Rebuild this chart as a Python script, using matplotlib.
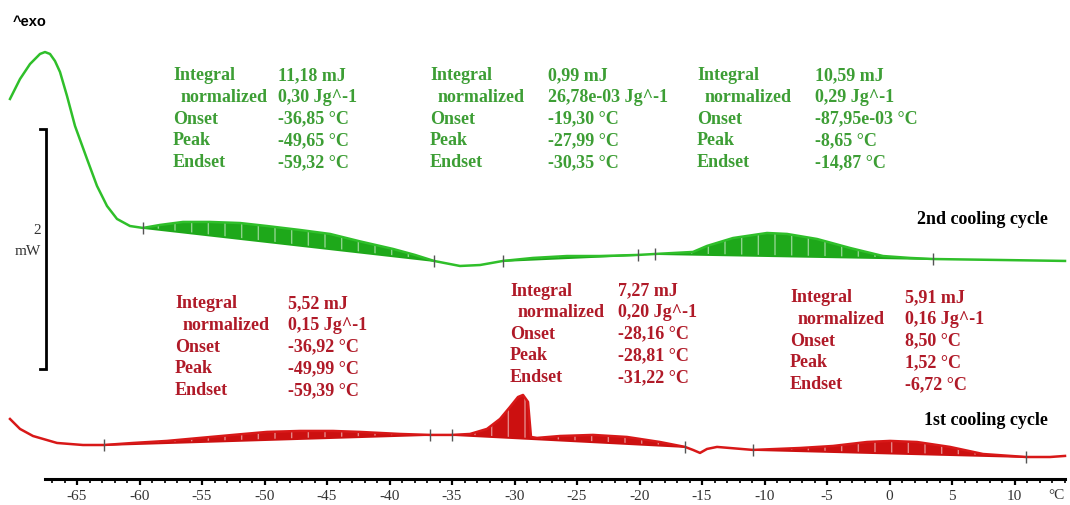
import numpy as np
from matplotlib import pyplot as plt

# 2nd cooling cycle (green), temperature in degC, heat flow in mW (arbitrary offset)
t_green = [-70.36, -69.56, -68.76, -67.96, -67.56, -67.16, -66.76, -66.36, -65.80, -65.16,
           -64.20, -63.40, -62.60, -61.80, -60.76, -59.72, -58.36, -56.52, -54.36, -51.96,
           -49.80, -47.16, -44.76, -42.36, -39.72, -37.96, -36.44, -34.36, -32.76, -30.92,
           -28.52, -25.80, -23.16, -20.12, -18.76, -15.72, -14.60, -12.52, -9.80, -8.20,
           -5.80, -3.16, -0.52, 1.64, 3.48, 8.84, 14.04]
hf_green = [3.167, 3.333, 3.458, 3.542, 3.558, 3.542, 3.483, 3.392, 3.192, 2.942,
            2.667, 2.442, 2.275, 2.167, 2.108, 2.092, 2.117, 2.142, 2.142, 2.133,
            2.108, 2.075, 2.042, 1.980, 1.917, 1.867, 1.817, 1.775, 1.783, 1.817,
            1.842, 1.858, 1.858, 1.867, 1.875, 1.892, 1.942, 2.008, 2.050, 2.042,
            2.000, 1.925, 1.858, 1.842, 1.833, 1.825, 1.817]

# 1st cooling cycle (red)
t_red = [-70.36, -69.56, -68.52, -66.60, -64.52, -62.84, -60.52, -57.80, -55.16, -52.52,
         -49.80, -47.16, -44.52, -42.36, -39.16, -36.76, -35.00, -33.56, -32.20, -31.16,
         -30.36, -29.72, -29.32, -28.92, -28.68, -28.20, -26.36, -23.72, -21.00, -18.36,
         -16.36, -15.72, -15.16, -14.60, -13.80, -10.92, -7.16, -4.52, -1.80, 0.04,
         2.20, 4.84, 7.48, 10.92, 12.84, 14.04]
hf_red = [0.500, 0.417, 0.358, 0.300, 0.283, 0.283, 0.300, 0.317, 0.342, 0.367,
          0.392, 0.400, 0.400, 0.392, 0.375, 0.367, 0.367, 0.375, 0.417, 0.500,
          0.600, 0.683, 0.700, 0.642, 0.350, 0.342, 0.358, 0.367, 0.350, 0.308,
          0.267, 0.242, 0.217, 0.250, 0.267, 0.242, 0.258, 0.275, 0.308, 0.317,
          0.308, 0.267, 0.208, 0.183, 0.183, 0.192]

# integration limits (degC)
limits_green = [(-59.72, -36.44), (-30.92, -20.12), (-18.76, 3.48)]
limits_red = [(-62.84, -36.76), (-35.00, -16.36), (-10.92, 10.92)]

row_labels = ["Integral", "normalized", "Onset", "Peak", "Endset"]
vals_green = [["11,18 mJ", "0,30 Jg^-1", "-36,85 °C", "-49,65 °C", "-59,32 °C"],
              ["0,99 mJ", "26,78e-03 Jg^-1", "-19,30 °C", "-27,99 °C", "-30,35 °C"],
              ["10,59 mJ", "0,29 Jg^-1", "-87,95e-03 °C", "-8,65 °C", "-14,87 °C"]]
vals_red = [["5,52 mJ", "0,15 Jg^-1", "-36,92 °C", "-49,99 °C", "-59,39 °C"],
            ["7,27 mJ", "0,20 Jg^-1", "-28,16 °C", "-28,81 °C", "-31,22 °C"],
            ["5,91 mJ", "0,16 Jg^-1", "8,50 °C", "1,52 °C", "-6,72 °C"]]

major_ticks = list(range(-65, 11, 5))
tick_labels = [str(t) for t in major_ticks]

W, H = 1070, 506
fig = plt.figure(figsize=(W / 100, H / 100), dpi=100)
ax = fig.add_axes([0, 0, 1, 1])
ax.set_xlim(-71.16, 14.44)
ax.set_ylim(-0.217, 4.0)

GREEN_LINE = '#2fbf2a'
GREEN_FILL = '#1ea81a'
GREEN_TEXT = '#3d9e35'
RED_LINE = '#d81818'
RED_FILL = '#cc1010'
RED_TEXT = '#b01a28'

plt.rcParams['hatch.linewidth'] = 1.0


def draw_curve(t, hf, limits, lc, fc):
    t = np.array(t)
    hf = np.array(hf)
    ax.plot(t, hf, color=lc, lw=1.8, zorder=3)
    for a, b in limits:
        ya = np.interp(a, t, hf)
        yb = np.interp(b, t, hf)
        inside = (t > a) & (t < b)
        xs = np.concatenate([[a], t[inside], [b]])
        ys = np.concatenate([[ya], hf[inside], [yb]])
        base = ya + (yb - ya) * (xs - a) / (b - a)
        ax.fill_between(xs, ys, base, facecolor=fc, edgecolor=(1, 1, 1, 0.5),
                        hatch='|', lw=0, zorder=2)
        ax.plot([a, b], [ya, yb], color=fc, lw=1.4, zorder=2)
        ax.plot([a, b], [ya, yb], ls='none', marker='|', ms=9, mew=1.0,
                color='#555555', zorder=4)


draw_curve(t_green, hf_green, limits_green, GREEN_LINE, GREEN_FILL)
draw_curve(t_red, hf_red, limits_red, RED_LINE, RED_FILL)

# temperature axis
for s in ['top', 'left', 'right']:
    ax.spines[s].set_visible(False)
ax.spines['bottom'].set_position(('data', 0.0))
ax.spines['bottom'].set_bounds(-67.6, 14.0)
ax.spines['bottom'].set_linewidth(2.2)
ax.set_xticks(major_ticks)
ax.set_xticklabels(tick_labels)
ax.set_xticks(np.arange(-67, 15, 1), minor=True)
ax.tick_params(axis='x', which='major', direction='out', length=4.5, width=1.6,
               pad=2.5, labelsize=11, labelcolor='#333333')
ax.tick_params(axis='x', which='minor', direction='out', length=3, width=1.2)
for lab in ax.get_xticklabels():
    lab.set_family('Liberation Serif')
ax.set_yticks([])


def px(x, y):
    return x / W, 1 - y / H


fig.text(*px(1056, 496), "°C", ha='center', va='center', fontsize=11,
         family='Liberation Serif', color='#333333')


# integral tables
def table(x_lab, x_val, y0, vals, color):
    for i, (lab, v) in enumerate(zip(row_labels, vals)):
        y = y0 + i * 21.6
        dx = 8 if i == 1 else 0
        fig.text(*px(x_lab + dx, y), lab, color=color, fontsize=13, fontweight='bold',
                 family='Liberation Serif', va='center', ha='left')
        fig.text(*px(x_val, y), v, color=color, fontsize=13, fontweight='bold',
                 family='Liberation Serif', va='center', ha='left')


for (xl, xv, y0), v in zip([(173, 278, 76), (430, 548, 76), (697, 815, 76)], vals_green):
    table(xl, xv, y0, v, GREEN_TEXT)
for (xl, xv, y0), v in zip([(175, 288, 304), (510, 618, 291), (790, 905, 298)], vals_red):
    table(xl, xv, y0, v, RED_TEXT)

fig.text(*px(1048, 220), "2nd cooling cycle", fontsize=13, fontweight='bold',
         family='Liberation Serif', ha='right', va='center', color='black')
fig.text(*px(1048, 421), "1st cooling cycle", fontsize=13, fontweight='bold',
         family='Liberation Serif', ha='right', va='center', color='black')

# exo marker and scale bar
fig.text(*px(13, 22), "^exo", fontsize=10.5, fontweight='bold', family='Liberation Sans',
         ha='left', va='center', color='black')
ax.plot([-68.0, -67.5, -67.5, -68.0], [2.917, 2.917, 0.917, 0.917], color='black',
        lw=2, solid_joinstyle='miter', zorder=5)
fig.text(*px(41, 231), "2", fontsize=11, family='Liberation Serif', ha='right',
         va='center', color='#333333')
fig.text(*px(41, 252), "mW", fontsize=11, family='Liberation Serif', ha='right',
         va='center', color='#333333')

fig.savefig("out.png", dpi=100, facecolor='white')
